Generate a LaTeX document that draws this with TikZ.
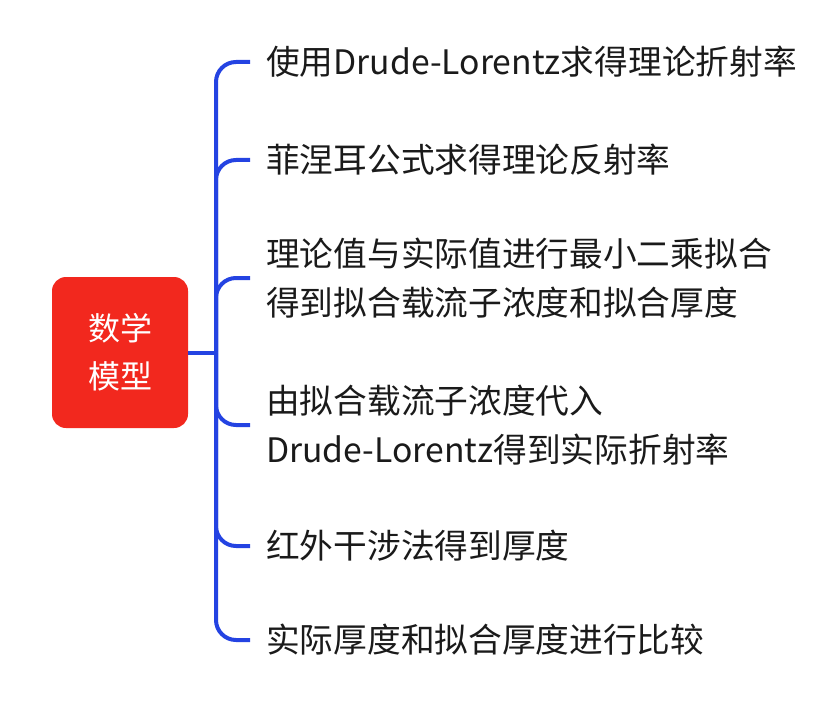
\documentclass[tikz,border=0pt]{standalone}
\usepackage{fontspec}
\usepackage{tikz}
\usetikzlibrary{positioning,calc}
\newfontfamily\cjk{Noto Sans CJK SC}
\definecolor{RootRed}{HTML}{F2281E}
\definecolor{BranchBlue}{HTML}{2443E2}
\definecolor{ItemText}{HTML}{1A1A1A}

\begin{document}
\begin{tikzpicture}[x=1pt, y=-1pt,
  rootbox/.style={fill=RootRed, draw=none, rounded corners=14pt, minimum width=136pt, minimum height=151pt, inner sep=0pt, text=white, align=center, font=\cjk\fontsize{32}{48}\selectfont},
  item/.style={anchor=west, inner sep=0pt, text=ItemText, align=left, font=\cjk\fontsize{33.7}{49}\selectfont},
  branch/.style={draw=BranchBlue, line width=4pt, rounded corners=20pt}]
  \useasboundingbox (0,0) rectangle (837,711);

  % Root
  \node[rootbox] (root) at (120,352.5) {数学\\模型};
  \coordinate (hub) at (216,352.5);

  % Items
  \node[item] (lorentz) at (266,62) {使用Drude-Lorentz求得理论折射率};
  \node[item] (fresnel) at (266,160) {菲涅耳公式求得理论反射率};
  \node[item] (fit) at (266,278) {理论值与实际值进行最小二乘拟合\\得到拟合载流子浓度和拟合厚度};
  \node[item] (refr) at (266,425) {由拟合载流子浓度代入\\Drude-Lorentz得到实际折射率};
  \node[item] (infra) at (266,546) {红外干涉法得到厚度};
  \node[item] (compare) at (266,640) {实际厚度和拟合厚度进行比较};

  % Connectors
  \draw[branch] (root.east) -- (hub);
  \foreach \n in {lorentz,fresnel,fit,refr,infra,compare}
    \draw[branch] (hub) |- ([xshift=-16pt]\n.west);
\end{tikzpicture}
\end{document}
